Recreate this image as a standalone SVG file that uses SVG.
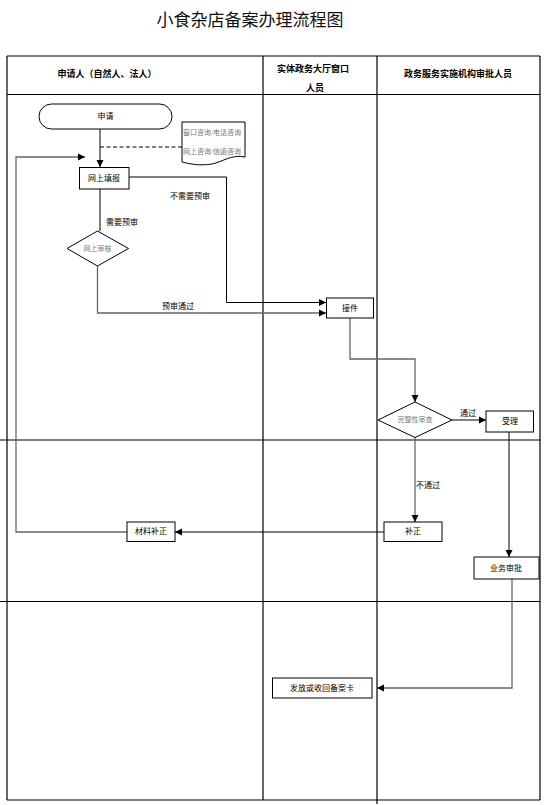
<svg xmlns="http://www.w3.org/2000/svg" width="548" height="805" viewBox="0 0 548 805">
<style>
.grid{stroke:#000;stroke-width:1.2;fill:none}
.box{fill:#fff;stroke:#000;stroke-width:1}
.t{font-family:"Liberation Sans","Noto Sans CJK SC",sans-serif;font-size:8px;fill:#000;text-anchor:middle;dominant-baseline:central}
.h{font-family:"Liberation Sans","Noto Sans CJK SC",sans-serif;font-size:9px;font-weight:bold;fill:#000;text-anchor:middle;dominant-baseline:central}
.g{font-family:"Liberation Serif","Noto Sans CJK SC",serif;font-size:7px;fill:#777;dominant-baseline:central}
.c{stroke:#000;stroke-width:1;fill:none}
.cg{stroke:#666;stroke-width:1.3;fill:none}
</style>
<defs>
<marker id="ah" markerWidth="8" markerHeight="8" refX="7" refY="4" orient="auto" markerUnits="userSpaceOnUse">
<path d="M0,0.5 L7,4 L0,7.5 Z" fill="#000"/>
</marker>
</defs>
<rect width="548" height="805" fill="#fff"/>
<text x="250" y="20" font-family="Liberation Serif,'Noto Sans CJK SC',serif" font-size="17" text-anchor="middle" dominant-baseline="central" fill="#111">小食杂店备案办理流程图</text>

<g id="table">
<line class="grid" x1="7" y1="56" x2="540" y2="56"/>
<line class="grid" x1="7" y1="94.5" x2="540" y2="94.5"/>
<line class="grid" x1="0" y1="440" x2="540" y2="440"/>
<line class="grid" x1="0" y1="601.5" x2="540" y2="601.5"/>
<line class="grid" x1="7" y1="800" x2="540" y2="800"/>
<line class="grid" x1="7" y1="56" x2="7" y2="800"/>
<line class="grid" x1="263" y1="56" x2="263" y2="800"/>
<line class="grid" x1="377" y1="56" x2="377" y2="804"/>
<line class="grid" x1="540" y1="56" x2="540" y2="800"/>
<text class="h" x="107" y="74">申请人（自然人、法人）</text>
<text class="h" x="313" y="69">实体政务大厅窗口</text>
<text class="h" x="315" y="88">人员</text>
<text class="h" x="458" y="74">政务服务实施机构审批人员</text>
</g>

<g id="connectors">
<line class="c" x1="100" y1="129" x2="100" y2="167" marker-end="url(#ah)"/>
<line class="c" x1="100" y1="147" x2="182" y2="147" stroke-dasharray="4,2.5"/>
<polyline class="cg" points="127,532 16,532 16,157 85,157" marker-end="url(#ah)"/>
<polyline class="c" points="129,177 226.5,177 226.5,302.5 326,302.5" marker-end="url(#ah)"/>
<line class="c" x1="100" y1="189" x2="100" y2="231"/>
<polyline class="cg" points="97.5,266 97.5,313 326,313" marker-end="url(#ah)"/>
<polyline class="cg" points="350,318 350,359 415,359 415,402" marker-end="url(#ah)"/>
<line class="c" x1="452" y1="420" x2="486" y2="420" marker-end="url(#ah)"/>
<line class="cg" x1="415" y1="437" x2="415" y2="522" marker-end="url(#ah)"/>
<line class="c" x1="509" y1="432" x2="509" y2="557" marker-end="url(#ah)"/>
<line class="c" x1="384" y1="532" x2="175" y2="532" marker-end="url(#ah)"/>
<polyline class="cg" points="512,579 512,688 377,688" marker-end="url(#ah)"/>
<text class="t" x="190" y="196">不需要预审</text>
<text class="t" x="122" y="222">需要预审</text>
<text class="t" x="178" y="306">预审通过</text>
<text class="t" x="468" y="413">通过</text>
<text class="t" x="428" y="485">不通过</text>
</g>

<g id="n-apply">
<rect class="box" x="39" y="104" width="133" height="25" rx="12.5"/>
<text class="t" x="105.5" y="116.5">申请</text>
</g>
<g id="n-consult">
<path class="box" d="M182,122 H245 V157 C232,154 222,162 212,164 C200,166 190,164 182,162 Z"/>
<text class="g" x="183" y="133">窗口咨询/电话咨询</text>
<text class="g" x="183" y="152">网上咨询/信函咨询</text>
</g>
<g id="n-fill">
<rect class="box" x="79.5" y="167.5" width="49.5" height="21.5"/>
<text class="t" x="104" y="178.5">网上填报</text>
</g>
<g id="n-online-review">
<polygon class="box" points="97.5,231 128.5,248.5 97.5,266 67,248.5"/>
<text class="g" x="97.5" y="248.5" text-anchor="middle">网上审核</text>
</g>
<g id="n-receive">
<rect class="box" x="326.5" y="298" width="47" height="20"/>
<text class="t" x="350" y="308">接件</text>
</g>
<g id="n-check">
<polygon class="box" points="415,402 452,420 415,437.5 378,420"/>
<text class="g" x="415" y="420" text-anchor="middle">完整性审查</text>
</g>
<g id="n-accept">
<rect class="box" x="486" y="411" width="47.5" height="21"/>
<text class="t" x="510" y="421.5">受理</text>
</g>
<g id="n-correct">
<rect class="box" x="384" y="522" width="58" height="19.5"/>
<text class="t" x="413" y="531.5">补正</text>
</g>
<g id="n-material">
<rect class="box" x="127" y="522" width="48" height="19.5"/>
<text class="t" x="151" y="531.5">材料补正</text>
</g>
<g id="n-approve">
<rect class="box" x="474" y="557" width="65" height="22"/>
<text class="t" x="506" y="568">业务审批</text>
</g>
<g id="n-issue">
<rect class="box" x="272.5" y="678" width="99.5" height="20"/>
<text class="t" x="322" y="688">发放或收回备案卡</text>
</g>
</svg>
